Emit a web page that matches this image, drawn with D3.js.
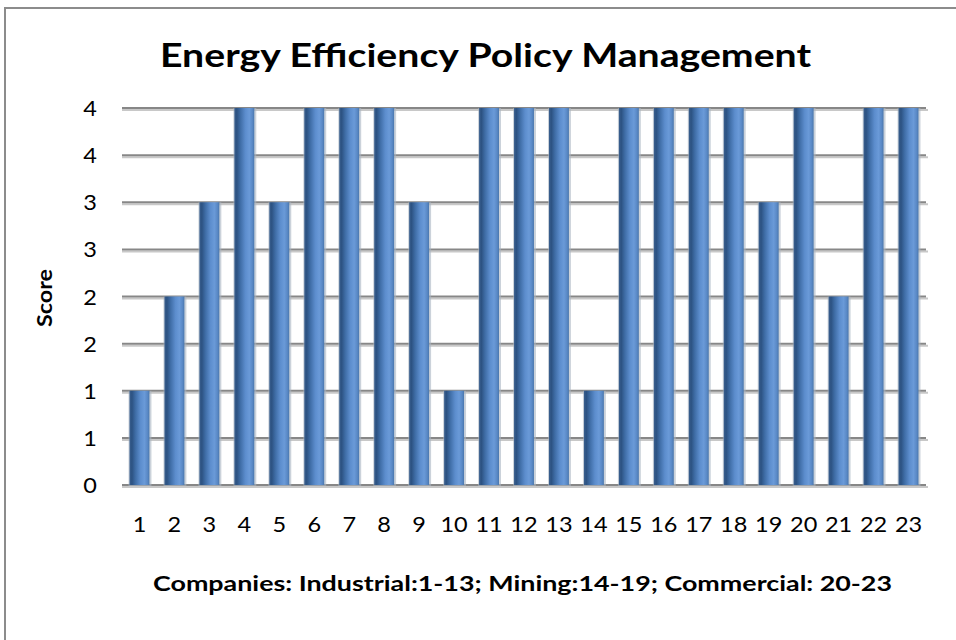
<!DOCTYPE html>
<html><head><meta charset="utf-8">
<script src="https://cdn.jsdelivr.net/npm/d3@7"></script>
<style>body{margin:0;background:#fff}svg{display:block}</style>
</head><body>
<svg id="chart" width="956" height="640"></svg>
<script>
const categories = ["1","2","3","4","5","6","7","8","9","10","11","12","13","14","15","16","17","18","19","20","21","22","23"];
const scores = [1,2,3,4,3,4,4,4,3,1,4,4,4,1,4,4,4,4,3,4,2,4,4];
const yTicks = [0,0.5,1,1.5,2,2.5,3,3.5,4];
const title = "Energy Efficiency Policy Management";
const yTitle = "Score";
const xTitle = "Companies: Industrial:1-13; Mining:14-19; Commercial: 20-23";

const svg = d3.select("#chart");
const font = "Lato, 'Open Sans', sans-serif";

// outer border
svg.append("rect").attr("x",5).attr("y",8).attr("width",1000).attr("height",700)
  .attr("fill","none").attr("stroke","#8c8c8c").attr("stroke-width",2);

const plot = {left:122, right:926, top:108, bottom:485};
const x = d3.scaleBand().domain(categories).range([plot.left, plot.right]).paddingInner(0.43).paddingOuter(0.215);
const y = d3.scaleLinear().domain([0,4]).range([plot.bottom, plot.top]);

const defs = svg.append("defs");
const g = defs.append("linearGradient").attr("id","cyl").attr("x1","0").attr("x2","1").attr("y1","0").attr("y2","0");
[[0,"#3a5f8e"],[0.12,"#2c5282"],[0.3,"#3f6da6"],[0.55,"#5c8dcd"],[0.75,"#6a9ad8"],[0.9,"#5a89c6"],[1,"#4a77ad"]]
  .forEach(([o,c])=>g.append("stop").attr("offset",o).attr("stop-color",c));

// gridlines (shadow + line)
const grid = svg.append("g");
grid.selectAll("line.sh").data(yTicks).join("line").attr("class","sh")
  .attr("x1",plot.left).attr("x2",plot.right+2)
  .attr("y1",d=>y(d)+2).attr("y2",d=>y(d)+2)
  .attr("stroke","#c8c8c8").attr("stroke-width",2);
grid.selectAll("line.gl").data(yTicks).join("line").attr("class","gl")
  .attr("x1",plot.left).attr("x2",plot.right)
  .attr("y1",d=>y(d)).attr("y2",d=>y(d))
  .attr("stroke","#878787").attr("stroke-width",2);

// bar shadows
svg.append("g").selectAll("rect").data(scores).join("rect")
  .attr("x",(d,i)=>x(categories[i])-1).attr("width",x.bandwidth()+3)
  .attr("y",d=>y(d)).attr("height",d=>y(0)-y(d)+1)
  .attr("fill","#a9b4c2").attr("opacity",0.6);
// bars
svg.append("g").selectAll("rect").data(scores).join("rect")
  .attr("x",(d,i)=>x(categories[i])).attr("width",x.bandwidth())
  .attr("y",d=>y(d)).attr("height",d=>y(0)-y(d))
  .attr("fill","url(#cyl)");

// y axis labels
const yAxis = d3.axisLeft(y).tickValues(yTicks).tickSize(0).tickPadding(0)
  .tickFormat(d=>Math.round(d+1e-9).toString());
const ya = svg.append("g").attr("transform",`translate(97,0)`).call(yAxis);
ya.select(".domain").remove();
ya.selectAll("text").attr("font-family",font).attr("font-size",21).attr("fill","#000")
  .attr("dy","0.36em").attr("transform","scale(1.12,1)");

// x axis labels
const xAxis = d3.axisBottom(x).tickSize(0).tickPadding(0);
const xa = svg.append("g").attr("transform",`translate(0,532)`).call(xAxis);
xa.select(".domain").remove();
xa.selectAll("text").attr("font-family",font).attr("font-size",21).attr("fill","#000")
  .attr("dy","0").attr("transform","scale(1.12,1)");

// titles
svg.append("text").attr("x",160).attr("y",67).attr("text-anchor","start")
  .attr("textLength",651).attr("lengthAdjust","spacingAndGlyphs")
  .attr("font-family",font).attr("font-weight","bold").attr("font-size",33).text(title);
svg.append("text").attr("transform","translate(52,327) rotate(-90)").attr("text-anchor","start")
  .attr("textLength",58).attr("lengthAdjust","spacingAndGlyphs")
  .attr("font-family",font).attr("font-weight","bold").attr("font-size",21).text(yTitle);
svg.append("text").attr("x",153).attr("y",591).attr("text-anchor","start")
  .attr("textLength",739).attr("lengthAdjust","spacingAndGlyphs")
  .attr("font-family",font).attr("font-weight","bold").attr("font-size",21).text(xTitle);
</script>
</body></html>
